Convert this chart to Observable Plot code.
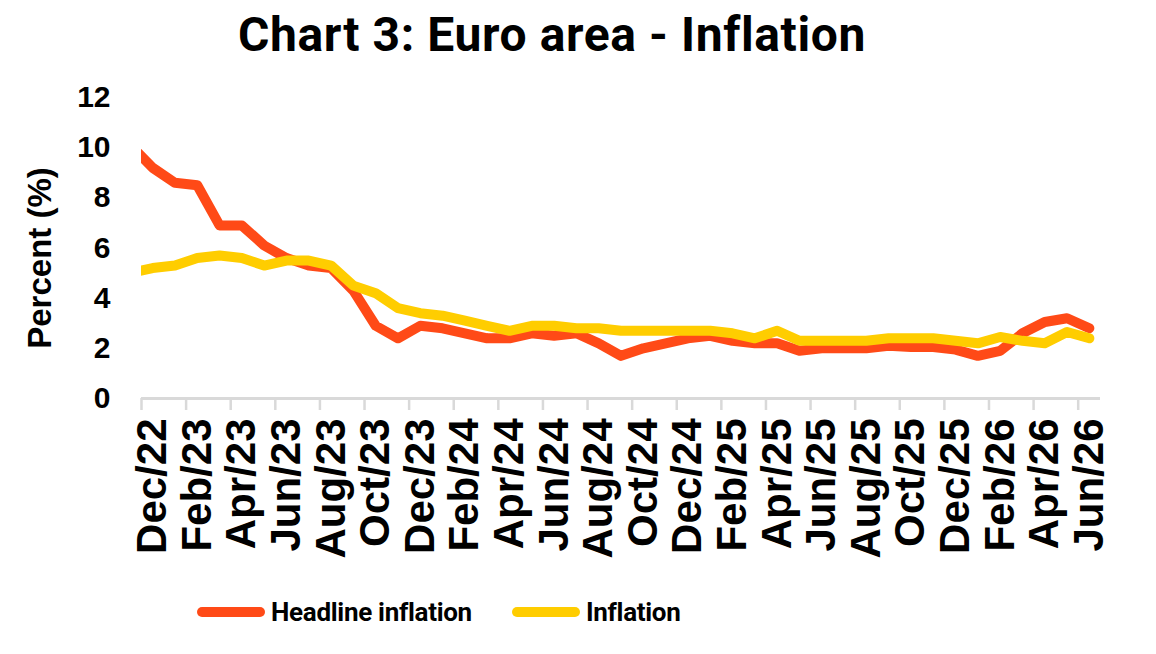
<!DOCTYPE html>
<html>
<head>
<meta charset="utf-8">
<script src="https://cdn.jsdelivr.net/npm/d3@7"></script>
<script src="https://cdn.jsdelivr.net/npm/@observablehq/plot@0.6"></script>
<style>
  body { margin: 0; background: #fff; }
  #wrap { position: relative; width: 1156px; height: 654px; overflow: hidden; }
  #title { position: absolute; left: 0; top: 6px; width: 1104px; line-height: 1; margin: 0;
           text-align: center; font: 700 48px Roboto, "Liberation Sans", sans-serif; letter-spacing: 0.6px; color: #000; }
  #chart { position: absolute; left: 0; top: 80px; }
  #legend { position: absolute; left: 0; top: 580px; width: 1156px; height: 64px; }
  .item { position: absolute; top: 0; height: 64px; display: flex; align-items: center; }
  .sw { width: 68px; height: 10px; border-radius: 5px; margin-right: 6px; }
  .lab { font: 700 26px Roboto, "Liberation Sans", sans-serif; letter-spacing: -0.3px; color: #000; }
</style>
</head>
<body>
<div id="wrap">
  <div id="title">Chart 3: Euro area - Inflation</div>
  <div id="chart"></div>
  <div id="legend"></div>
</div>
<script>
// Monthly series; the first month sits just left of the visible axis range.
const months = ["Nov/22","Dec/22",
  "Jan/23","Feb/23","Mar/23","Apr/23","May/23","Jun/23","Jul/23","Aug/23","Sep/23","Oct/23","Nov/23","Dec/23",
  "Jan/24","Feb/24","Mar/24","Apr/24","May/24","Jun/24","Jul/24","Aug/24","Sep/24","Oct/24","Nov/24","Dec/24",
  "Jan/25","Feb/25","Mar/25","Apr/25","May/25","Jun/25","Jul/25","Aug/25","Sep/25","Oct/25","Nov/25","Dec/25",
  "Jan/26","Feb/26","Mar/26","Apr/26","May/26","Jun/26"];

const headline = [10.1, 9.2,
  8.6, 8.5, 6.9, 6.9, 6.1, 5.6, 5.3, 5.2, 4.3, 2.9, 2.4, 2.9,
  2.8, 2.6, 2.4, 2.4, 2.6, 2.5, 2.6, 2.2, 1.7, 2.0, 2.2, 2.4,
  2.5, 2.3, 2.2, 2.2, 1.9, 2.0, 2.0, 2.0, 2.1, 2.05, 2.05, 1.95,
  1.7, 1.9, 2.6, 3.05, 3.2, 2.8];

const core = [5.0, 5.2,
  5.3, 5.6, 5.7, 5.6, 5.3, 5.5, 5.5, 5.3, 4.5, 4.2, 3.6, 3.4,
  3.3, 3.1, 2.9, 2.7, 2.9, 2.9, 2.8, 2.8, 2.7, 2.7, 2.7, 2.7,
  2.7, 2.6, 2.4, 2.7, 2.3, 2.3, 2.3, 2.3, 2.4, 2.4, 2.4, 2.3,
  2.2, 2.45, 2.3, 2.2, 2.65, 2.4];

const yTicks = [0, 2, 4, 6, 8, 10, 12];

const seriesNames = ["Headline inflation", "Inflation"];
const seriesColors = ["#ff4a17", "#ffcd00"];

const rows = months.map((m, i) => ({ i, month: m, headline: headline[i], core: core[i] }));

// every second month is labelled; ticks sit on the category boundaries
const labelIdx = months.map((_, i) => i).filter(i => i % 2 === 1);
const bounds = labelIdx.map(i => i - 0.5);

const lineStyle = { strokeWidth: 10, strokeLinecap: "round", strokeLinejoin: "round", clip: true };

const chart = Plot.plot({
  width: 1156,
  height: 500,
  marginLeft: 141,
  marginRight: 56,
  marginTop: 17,
  marginBottom: 182,
  x: { domain: [0.5, months.length - 0.5], axis: null },
  y: { domain: [0, 12], axis: null },
  style: { fontFamily: "'Liberation Sans', Arial, sans-serif", fontWeight: "bold", color: "#000", background: "#fff" },
  marks: [
    Plot.axisY(yTicks, { tickSize: 0, tickPadding: 31, fontSize: 30, fontWeight: "bold", label: null }),
    Plot.text(["Percent (%)"], { frameAnchor: "left", textAnchor: "middle", dx: -101, dy: 10, rotate: -90,
                                 fontSize: 33, fontWeight: "bold" }),
    Plot.axisX(bounds, { tickSize: 12, tickFormat: () => "", stroke: "#d9d9d9", strokeWidth: 2.5, label: null }),
    Plot.axisX(labelIdx, { tickSize: 0, tickPadding: 20, tickRotate: -90, tickFormat: i => months[i],
                           fontSize: 42, fontWeight: "bold", label: null }),
    Plot.ruleY([0], { stroke: "#d9d9d9", strokeWidth: 3 }),
    Plot.lineY(rows, { x: "i", y: "headline", stroke: seriesColors[0], ...lineStyle }),
    Plot.lineY(rows, { x: "i", y: "core", stroke: seriesColors[1], ...lineStyle })
  ]
});
document.getElementById("chart").append(chart);

// legend below the chart
const legend = document.getElementById("legend");
const legendLeft = [197, 512];
seriesNames.forEach((name, k) => {
  const item = document.createElement("div");
  item.className = "item";
  item.style.left = legendLeft[k] + "px";
  const sw = document.createElement("span");
  sw.className = "sw";
  sw.style.background = seriesColors[k];
  const lab = document.createElement("span");
  lab.className = "lab";
  lab.textContent = name;
  item.append(sw, lab);
  legend.append(item);
});
</script>
</body>
</html>
